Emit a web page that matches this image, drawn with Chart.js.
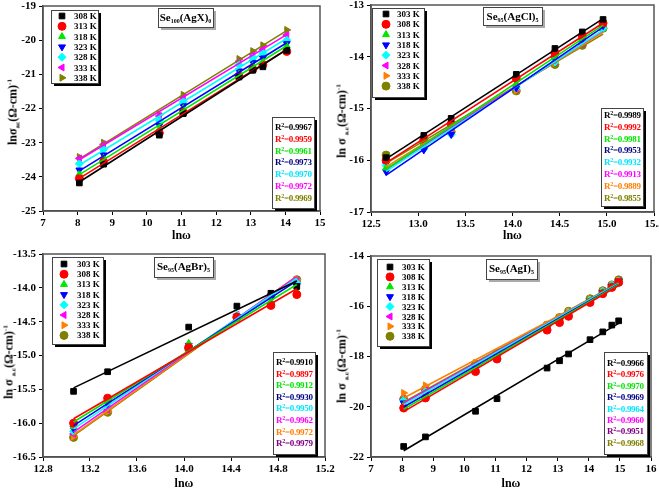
<!DOCTYPE html>
<html>
<head>
<meta charset="utf-8">
<script src="https://cdn.jsdelivr.net/npm/chart.js@4.4.0/dist/chart.umd.min.js"></script>
<style>
body { margin: 0; background: #fff; width: 659px; height: 489px; overflow: hidden; position: relative;
       font-family: "Liberation Serif", "DejaVu Serif", serif; font-weight: bold; }
.panel { position: absolute; }
.panel canvas { position: absolute; left: 0; top: 0; }
.txt { position: absolute; white-space: nowrap; font-size: 9px; line-height: 10px; }
.txt sup { font-size: 6px; vertical-align: 3px; line-height: 0; }
.r2 { letter-spacing: -0.3px; }
.ttl { position: absolute; white-space: nowrap; font-size: 11px; line-height: 12px; text-align: center; }
.ttl sub { font-size: 6px; vertical-align: -2px; line-height: 0; }
.ytl { position: absolute; white-space: nowrap; font-size: 12px; transform: translate(-50%, -50%) rotate(-90deg); }
.ytl sub { font-size: 7px; vertical-align: -3px; line-height: 0; }
.ytl sup { font-size: 7px; vertical-align: 5px; line-height: 0; }
.xtl { position: absolute; font-size: 12px; transform: translate(-50%, -50%); }
</style>
</head>
<body>
<script>
// ---- data ----
const lnwAgX = [8.05, 8.75, 10.36, 11.05, 12.66, 13.06, 13.35, 14.04];
const tempsAgX = ['308 K', '313 K', '318 K', '323 K', '328 K', '333 K', '338 K'];
const sigAgX = [
  [-24.18, -23.63, -22.78, -22.15, -21.08, -20.88, -20.78, -20.30],
  [-24.05, -23.56, -22.72, -22.12, -21.05, -20.85, -20.72, -20.33],
  [-23.92, -23.46, -22.60, -22.00, -21.00, -20.75, -20.62, -20.17],
  [-23.80, -23.36, -22.50, -21.92, -20.90, -20.65, -20.52, -20.10],
  [-23.62, -23.20, -22.35, -21.80, -20.72, -20.52, -20.38, -20.00],
  [-23.46, -23.05, -22.22, -21.66, -20.62, -20.42, -20.27, -19.85],
  [-23.42, -23.00, -22.18, -21.60, -20.55, -20.32, -20.15, -19.70]
];
const r2AgX = ['0.9967', '0.9959', '0.9961', '0.9973', '0.9970', '0.9972', '0.9969'];

const lnwAgCl = [12.66, 13.06, 13.35, 14.04, 14.45, 14.74, 14.96];
const tempsAgCl = ['303 K', '308 K', '313 K', '318 K', '323 K', '328 K', '333 K', '338 K'];
const sigAgCl = [
  [-15.95, -15.52, -15.19, -14.34, -13.84, -13.52, -13.28],
  [-16.00, -15.60, -15.30, -14.42, -13.93, -13.60, -13.35],
  [-16.15, -15.70, -15.35, -14.52, -14.00, -13.65, -13.38],
  [-16.22, -15.80, -15.50, -14.60, -14.05, -13.70, -13.40],
  [-16.10, -15.78, -15.50, -14.60, -14.10, -13.72, -13.45],
  [-16.05, -15.75, -15.48, -14.62, -14.10, -13.75, -13.42],
  [-16.00, -15.70, -15.45, -14.65, -14.12, -13.75, -13.45],
  [-15.90, -15.65, -15.45, -14.66, -14.15, -13.78, -13.45]
];
const r2AgCl = ['0.9989', '0.9992', '0.9981', '0.9953', '0.9932', '0.9913', '0.9889', '0.9855'];

const lnwAgBr = [13.06, 13.35, 14.04, 14.45, 14.74, 14.96];
const tempsAgBr = tempsAgCl;
const sigAgBr = [
  [-15.53, -15.24, -14.58, -14.27, -14.08, -13.98],
  [-16.00, -15.63, -14.88, -14.43, -14.26, -14.10],
  [-16.05, -15.68, -14.82, -14.42, -14.20, -14.05],
  [-16.08, -15.72, -14.85, -14.42, -14.15, -13.97],
  [-16.12, -15.76, -14.86, -14.40, -14.12, -13.93],
  [-16.16, -15.80, -14.88, -14.40, -14.10, -13.90],
  [-16.20, -15.83, -14.90, -14.43, -14.10, -13.88],
  [-16.21, -15.84, -14.90, -14.44, -14.12, -13.88]
];
const r2AgBr = ['0.9910', '0.9897', '0.9912', '0.9930', '0.9950', '0.9962', '0.9972', '0.9979'];

const lnwAgI = [8.05, 8.75, 10.36, 11.05, 12.66, 13.06, 13.35, 14.04, 14.45, 14.74, 14.96];
const tempsAgI = tempsAgCl;
const sigAgI = [
  [-21.58, -21.20, -20.18, -19.68, -18.46, -18.17, -17.90, -17.33, -17.02, -16.75, -16.58],
  [-20.05, -19.65, -18.60, -18.10, -16.95, -16.65, -16.40, -15.85, -15.50, -15.25, -15.05],
  [-19.95, -19.55, -18.55, -18.05, -16.90, -16.60, -16.35, -15.80, -15.45, -15.20, -15.05],
  [-19.85, -19.50, -18.45, -18.00, -16.85, -16.55, -16.30, -15.80, -15.45, -15.20, -15.00],
  [-19.75, -19.40, -18.40, -17.95, -16.80, -16.50, -16.25, -15.75, -15.40, -15.15, -15.00],
  [-19.70, -19.35, -18.35, -17.90, -16.80, -16.50, -16.25, -15.75, -15.40, -15.15, -15.00],
  [-19.45, -19.15, -18.25, -17.85, -16.75, -16.45, -16.20, -15.70, -15.40, -15.15, -14.98],
  [-19.70, -19.30, -18.30, -17.85, -16.75, -16.45, -16.20, -15.70, -15.38, -15.15, -14.95]
];
const r2AgI = ['0.9966', '0.9976', '0.9970', '0.9969', '0.9964', '0.9960', '0.9951', '0.9968'];

// ---- styling ----
const col7 = ['#000000', '#ff0000', '#00e600', '#0000ff', '#00ffff', '#ff00ff', '#808000'];
const col8 = ['#000000', '#ff0000', '#00e600', '#0000ff', '#00ffff', '#ff00ff', '#ff8000', '#808000'];
const mk7 = [['rect', 0], ['circle', 0], ['triangle', 0], ['triangle', 180], ['rectRot', 0], ['triangle', -90], ['triangle', 90]];
const mk8 = mk7.slice(0, 7).concat([['circle', 0]]);
const r2col7 = ['#000000', '#ff0000', '#00e600', '#000080', '#00e5ff', '#ff00ff', '#808000'];
const r2colCl = ['#000000', '#ff0000', '#00e600', '#000080', '#00e5ff', '#ff00ff', '#ff8000', '#808000'];
const r2colBr = ['#000000', '#ff0000', '#00e600', '#000080', '#00e5ff', '#ff00ff', '#ff8000', '#800080'];
const r2colI = ['#000000', '#ff0000', '#00e600', '#000080', '#00e5ff', '#ff00ff', '#800080', '#808000'];
const tickFont = { family: '"Liberation Serif", serif', size: 11, weight: 'bold' };

function fitLine(xs, ys) {
  var n = xs.length, mx = 0, my = 0, sxy = 0, sxx = 0;
  for (var i = 0; i < n; i++) { mx += xs[i] / n; my += ys[i] / n; }
  for (var i = 0; i < n; i++) { sxy += (xs[i] - mx) * (ys[i] - my); sxx += (xs[i] - mx) * (xs[i] - mx); }
  var b = sxy / sxx, a = my - b * mx;
  return [{ x: xs[0], y: a + b * xs[0] }, { x: xs[n - 1], y: a + b * xs[n - 1] }];
}

// boxes, legend markers and frame drawn on the canvas; texts are html on top
const boxesPlugin = {
  id: 'boxes',
  afterDatasetsDraw: function (chart, args, o) {
    var ctx = chart.ctx, a = chart.chartArea;
    ctx.save();
    ctx.strokeStyle = '#555'; ctx.lineWidth = 1.5;
    ctx.strokeRect(a.left, a.top, a.right - a.left, a.bottom - a.top);
    function box(b, shadow, off) {
      ctx.fillStyle = shadow; ctx.fillRect(b[0] + off, b[1] + off, b[2], b[3]);
      ctx.fillStyle = '#fff'; ctx.fillRect(b[0], b[1], b[2], b[3]);
      ctx.strokeStyle = '#444'; ctx.lineWidth = 1; ctx.strokeRect(b[0] + 0.5, b[1] + 0.5, b[2], b[3]);
    }
    box(o.legend, '#000', 3);
    box(o.title, '#aaa', 3);
    box(o.r2, '#000', 3);
    o.marks.forEach(function (m, i) {
      ctx.fillStyle = o.colors[i]; ctx.strokeStyle = o.colors[i];
      Chart.helpers.drawPoint(ctx, { pointStyle: m[0], rotation: m[1], radius: 4, borderWidth: 1 },
        o.mx, o.my0 + i * o.dy);
    });
    ctx.restore();
  }
};

function makePanel(p) {
  var div = document.createElement('div');
  div.className = 'panel';
  div.style.left = p.pos[0] + 'px'; div.style.top = p.pos[1] + 'px';
  div.style.width = p.size[0] + 'px'; div.style.height = p.size[1] + 'px';
  document.body.appendChild(div);
  // canvas a bit wider than the panel so the last x tick label is not cut
  var extra = 14;
  var cv = document.createElement('canvas');
  cv.width = p.size[0] + extra; cv.height = p.size[1];
  div.appendChild(cv);

  var lines = [], pts = [];
  p.ys.forEach(function (ys, i) {
    lines.push({ type: 'line', data: fitLine(p.xs, ys), borderColor: p.colors[i], borderWidth: 1.6,
      pointRadius: 0, fill: false });
    pts.push({ data: p.xs.map(function (x, j) { return { x: x, y: ys[j] }; }),
      pointStyle: p.marks[i][0], rotation: p.marks[i][1], pointRadius: 4,
      backgroundColor: p.colors[i], borderColor: p.colors[i], borderWidth: 1, showLine: false });
  });

  var area = p.area;
  new Chart(cv, {
    type: 'scatter',
    data: { datasets: lines.concat(pts) },
    options: {
      responsive: false, animation: false, devicePixelRatio: 1,
      layout: { padding: { left: 0, top: area[2], right: p.size[0] + extra - area[1], bottom: 0 } },
      plugins: {
        legend: { display: false }, tooltip: { enabled: false },
        boxes: { legend: p.legend, title: p.titleBox, r2: p.r2Box, marks: p.marks, colors: p.colors,
          mx: p.mx, my0: p.my0, dy: p.dy }
      },
      scales: {
        x: {
          type: 'linear', min: p.xr[0], max: p.xr[1],
          ticks: { stepSize: p.xr[2], color: '#000', font: tickFont, padding: 2, maxRotation: 0, autoSkip: false,
            callback: function (v) { return v.toFixed(p.xr[3]); } },
          grid: { drawOnChartArea: false, drawTicks: true, tickLength: 4, color: '#000' },
          border: { color: '#444', width: 1.5 },
          afterFit: function (s) { s.height = p.size[1] - area[3]; s.paddingLeft = 0; s.paddingRight = 0; }
        },
        y: {
          type: 'linear', min: p.yr[0], max: p.yr[1],
          ticks: { stepSize: p.yr[2], color: '#000', font: tickFont, padding: 3, autoSkip: false,
            callback: function (v) { return v.toFixed(p.yr[3]); } },
          grid: { drawOnChartArea: false, drawTicks: true, tickLength: 4, color: '#000' },
          border: { color: '#444', width: 1.5 },
          afterFit: function (s) { s.width = area[0]; s.paddingTop = 0; s.paddingBottom = 0; }
        }
      }
    },
    plugins: [boxesPlugin]
  });

  function addText(cls, html, x, y, color) {
    var t = document.createElement('div');
    t.className = cls; t.innerHTML = html;
    t.style.left = x + 'px'; t.style.top = y + 'px';
    if (color) t.style.color = color;
    div.appendChild(t);
    return t;
  }
  p.temps.forEach(function (s, i) { addText('txt', s, p.tx, p.my0 + i * p.dy - 5); });
  p.r2.forEach(function (s, i) { addText('txt r2', 'R<sup>2</sup>=' + s, p.r2Box[0] + 3, p.r2y0 + i * p.r2dy - 5, p.r2colors[i]); });
  var tt = addText('ttl', p.title, p.titleBox[0], p.titleBox[1] + 3);
  tt.style.width = p.titleBox[2] + 'px';
  addText('ytl', p.ytitle, p.ytPos[0], p.ytPos[1]);
  addText('xtl', 'ln\u03c9', (area[0] + area[1]) / 2, p.xtY);
}

makePanel({
  pos: [0, 0], size: [329, 244], area: [43, 320, 6, 211],
  xs: lnwAgX, ys: sigAgX, temps: tempsAgX, r2: r2AgX, colors: col7, marks: mk7, r2colors: r2col7,
  xr: [7, 15, 1, 0], yr: [-25, -19, 1, 0],
  legend: [51, 10, 47, 73], mx: 62, my0: 16, dy: 10.3, tx: 74,
  titleBox: [158, 8, 55, 19], title: 'Se<sub>100</sub>(AgX)<sub>0</sub>',
  r2Box: [272, 117, 42, 91], r2y0: 127, r2dy: 11.8,
  ytitle: 'ln\u03c3<sub>ac</sub>(\u03a9-cm)<sup>-1</sup>', ytPos: [13, 112], xtY: 235
});
makePanel({
  pos: [329, 0], size: [330, 244], area: [42, 325, 5, 212],
  xs: lnwAgCl, ys: sigAgCl, temps: tempsAgCl, r2: r2AgCl, colors: col8, marks: mk8, r2colors: r2colCl,
  xr: [12.5, 15.5, 0.5, 1], yr: [-17, -13, 1, 0],
  legend: [43, 8, 52, 89], mx: 57, my0: 14, dy: 10.3, tx: 68,
  titleBox: [154, 7, 59, 18], title: 'Se<sub>95</sub>(AgCl)<sub>5</sub>',
  r2Box: [272, 108, 42, 98], r2y0: 115, r2dy: 11.8,
  ytitle: 'ln \u03c3 <sub>a.c</sub>(\u03a9-cm)<sup>-1</sup>', ytPos: [13, 121], xtY: 235
});
makePanel({
  pos: [0, 244], size: [329, 245], area: [43, 325, 10, 213],
  xs: lnwAgBr, ys: sigAgBr, temps: tempsAgBr, r2: r2AgBr, colors: col8, marks: mk8, r2colors: r2colBr,
  xr: [12.8, 15.2, 0.4, 1], yr: [-16.5, -13.5, 0.5, 1],
  legend: [52, 13, 51, 87], mx: 64, my0: 20, dy: 10.2, tx: 77,
  titleBox: [154, 13, 59, 20], title: 'Se<sub>95</sub>(AgBr)<sub>5</sub>',
  r2Box: [273, 108, 42, 102], r2y0: 118, r2dy: 11.6,
  ytitle: 'ln \u03c3 <sub>a.c</sub>(\u03a9-cm)<sup>-1</sup>', ytPos: [9, 118], xtY: 239
});
makePanel({
  pos: [329, 244], size: [330, 245], area: [42, 322, 12, 213],
  xs: lnwAgI, ys: sigAgI, temps: tempsAgI, r2: r2AgI, colors: col8, marks: mk8, r2colors: r2colI,
  xr: [7, 16, 1, 0], yr: [-22, -14, 2, 0],
  legend: [48, 15, 52, 87], mx: 61, my0: 23, dy: 9.9, tx: 73,
  titleBox: [157, 15, 51, 20], title: 'Se<sub>95</sub>(AgI)<sub>5</sub>',
  r2Box: [275, 108, 43, 102], r2y0: 119, r2dy: 11.4,
  ytitle: 'ln \u03c3 <sub>a.c</sub>(\u03a9-cm)<sup>-1</sup>', ytPos: [13, 122], xtY: 239
});
</script>
</body>
</html>
